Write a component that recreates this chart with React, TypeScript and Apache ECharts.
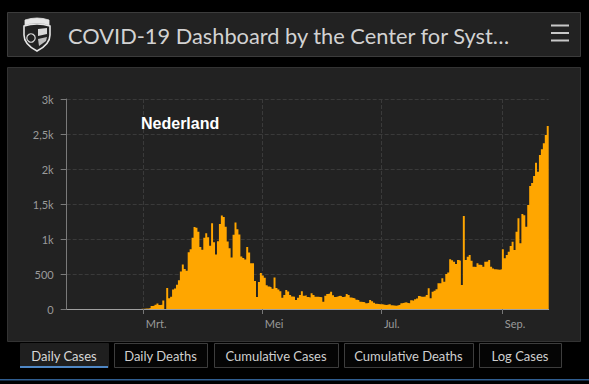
import React, { useEffect, useRef } from "react";
import * as echarts from "echarts";

// ---------- data ----------
const START_DATE = "2020-01-22";
const TITLE = "COVID-19 Dashboard by the Center for Syst…";
const COUNTRY = "Nederland";

// daily new cases per month (Jan 22 .. Sep 24, 2020)
const janCases = [0, 0, 0, 0, 0, 0, 0, 0, 0, 0];
const febCases = [
  0, 0, 0, 0, 0, 0, 0, 0, 0, 0, 0, 0, 0, 0, 0, 0, 0, 0, 0, 0, 0, 0, 0, 0, 0, 0,
  1, 0, 5,
];
const marCases = [
  4, 8, 6, 14, 44, 46, 60, 77, 56, 61, 121, 0, 301, 155, 176, 278, 292, 346,
  409, 534, 637, 573, 545, 811, 852, 1019, 1172, 1159, 1104, 884, 845,
];
const aprCases = [
  1019, 1083, 1026, 904, 1224, 952, 777, 969, 1213, 1335, 1316, 1174, 964, 868,
  734, 1061, 1235, 1140, 1066, 750, 729, 708, 887, 806, 655, 655, 400, 171, 386,
  514,
];
const mayCases = [
  480, 445, 340, 320, 310, 290, 450, 300, 280, 255, 160, 200, 270, 250, 200,
  180, 175, 130, 160, 200, 255, 190, 195, 170, 165, 224, 200, 176, 176, 170,
  167,
];
const junCases = [
  105, 190, 214, 222, 248, 195, 170, 180, 190, 184, 172, 178, 216, 200, 165,
  158, 150, 132, 126, 105, 100, 95, 81, 88, 129, 112, 90, 76, 71, 67,
];
const julCases = [
  67, 60, 57, 65, 71, 52, 50, 48, 52, 60, 81, 90, 95, 85, 81, 125, 119, 138,
  150, 186, 176, 176, 180, 200, 295, 152, 248, 260, 281, 367, 367,
];
const augCases = [
  438, 390, 500, 520, 710, 695, 676, 643, 700, 690, 343, 1329, 700, 748, 771,
  690, 605, 600, 652, 633, 628, 605, 676, 680, 700, 605, 580, 567, 565, 560,
  567,
];
const sepCases = [
  852, 724, 770, 819, 900, 962, 843, 1105, 1295, 938, 1357, 1340, 1176, 1486,
  1757, 1800, 1900, 2090, 1962, 2200, 2281, 2367, 2486, 2614,
];

const dailyCases = [
  ...janCases,
  ...febCases,
  ...marCases,
  ...aprCases,
  ...mayCases,
  ...junCases,
  ...julCases,
  ...augCases,
  ...sepCases,
];

const TICK_DATES = ["2020-03-01", "2020-05-01", "2020-07-01", "2020-09-01"];
const TICK_LABELS = ["Mrt.", "Mei", "Jul.", "Sep."];
const Y_TICK_VALUES = [0, 500, 1000, 1500, 2000, 2500, 3000];
const Y_TICK_LABELS = ["0", "500", "1k", "1,5k", "2k", "2,5k", "3k"];
const TAB_LABELS = [
  "Daily Cases",
  "Daily Deaths",
  "Cumulative Cases",
  "Cumulative Deaths",
  "Log Cases",
];

function buildDates(start: string, n: number): string[] {
  const t0 = Date.parse(start + "T00:00:00Z");
  const out: string[] = [];
  for (let i = 0; i < n; i++) {
    out.push(new Date(t0 + i * 86400000).toISOString().slice(0, 10));
  }
  return out;
}

// one extra date closes the last day's column (each day spans [day, next day])
const categories = buildDates(START_DATE, dailyCases.length + 1);

// ---------- logo shapes ----------
let shapesRegistered = false;
function registerShapes() {
  if (shapesRegistered) return;
  shapesRegistered = true;
  echarts.graphic.registerShape(
    "jhuShield",
    echarts.graphic.extendPath(
      "M2 9 Q15 5 28 9 L28 18 C28 26 21 31 15 34 C9 31 2 26 2 18 Z",
      {}
    )
  );
  echarts.graphic.registerShape(
    "jhuCap",
    echarts.graphic.extendPath(
      "M3 8 L3 3 Q15 -1 27 3 L27 8 Q15 4 3 8 Z",
      {}
    )
  );
}

export default function App() {
  const ref = useRef<HTMLDivElement>(null);

  useEffect(() => {
    if (!ref.current) return;
    registerShapes();
    const chart = echarts.init(ref.current, undefined, { renderer: "svg" });

    const isTick = (i: number) => TICK_DATES.indexOf(categories[i]) >= 0;
    const labelColor = "#9a9a9a";
    const font = "Lato";
    const barColor = "#ffa600";

    const TAB_X: [number, number][] = [
      [20, 108],
      [114, 207],
      [214, 338],
      [344, 473],
      [479, 561],
    ];

    const tabs: any[] = [];
    TAB_LABELS.forEach((label, i) => {
      const [x0, x1] = TAB_X[i];
      const selected = i === 0;
      tabs.push({
        type: "rect",
        z: 5,
        shape: { x: x0 + 0.5, y: 343.5, width: x1 - x0, height: 24 },
        style: selected
          ? { fill: "#1f1f1f", stroke: "#1f1f1f", lineWidth: 1 }
          : { fill: "#050505", stroke: "#3d3d3d", lineWidth: 1 },
      });
      if (selected) {
        tabs.push({
          type: "rect",
          z: 6,
          shape: { x: x0, y: 366, width: x1 - x0, height: 2 },
          style: { fill: "#4f87c5" },
        });
      }
      tabs.push({
        type: "text",
        z: 7,
        x: (x0 + x1) / 2,
        y: 355.5,
        style: {
          text: label,
          fill: selected ? "#d8d8d8" : "#cfcfcf",
          font: `13px ${font}`,
          align: "center",
          verticalAlign: "middle",
        },
      });
    });

    // daily columns drawn as one stepped area: day i spans [point i, point i+1]
    const stepData = [...dailyCases, dailyCases[dailyCases.length - 1]];

    const option: any = {
      animation: false,
      backgroundColor: "#000000",
      grid: { left: 66.7, right: 40.3, top: 99, bottom: 75 },
      xAxis: {
        type: "category",
        data: categories,
        boundaryGap: false,
        axisLine: { show: true, lineStyle: { color: "#a0a0a0", width: 1 } },
        axisTick: {
          show: true,
          interval: (i: number) => isTick(i),
          length: 5,
          lineStyle: { color: "#777777" },
        },
        axisLabel: {
          interval: (i: number) => isTick(i),
          formatter: (v: string) => {
            const k = TICK_DATES.indexOf(v);
            return k >= 0 ? TICK_LABELS[k] : "";
          },
          color: labelColor,
          fontFamily: font,
          fontSize: 11,
          align: "left",
          padding: [0, 0, 0, 3],
          margin: 9,
        },
        splitLine: {
          show: true,
          interval: (i: number) => isTick(i),
          lineStyle: { color: "#3a3a3a", type: "dashed", width: 1 },
        },
      },
      yAxis: {
        type: "value",
        min: 0,
        max: 3000,
        interval: 500,
        axisLine: { show: true, lineStyle: { color: "#7a7a7a", width: 1 } },
        axisTick: { show: true, length: 6, lineStyle: { color: "#7a7a7a" } },
        axisLabel: {
          color: labelColor,
          fontFamily: font,
          fontSize: 11,
          margin: 13,
          formatter: (v: number) => {
            const k = Y_TICK_VALUES.indexOf(v);
            return k >= 0 ? Y_TICK_LABELS[k] : String(v);
          },
        },
        splitLine: {
          show: true,
          lineStyle: { color: "#3a3a3a", type: "dashed", width: 1 },
        },
      },
      series: [
        {
          type: "line",
          data: stepData,
          step: "end",
          showSymbol: false,
          symbol: "none",
          sampling: undefined,
          lineStyle: { width: 0, color: barColor, opacity: 0 },
          areaStyle: { color: barColor, opacity: 1 },
          z: 3,
        },
      ],
      graphic: [
        // header panel
        {
          type: "rect",
          z: -10,
          shape: { x: 7.5, y: 12.5, width: 573, height: 44 },
          style: { fill: "#222222", stroke: "#3c3c3c", lineWidth: 1 },
        },
        // chart panel
        {
          type: "rect",
          z: -10,
          shape: { x: 7.5, y: 67.5, width: 573, height: 274 },
          style: { fill: "#222222", stroke: "#333333", lineWidth: 1 },
        },
        // logo
        {
          type: "jhuShield",
          z: 5,
          x: 22,
          y: 17,
          scaleX: 1,
          scaleY: 1,
          style: { fill: "#222222", stroke: "#e6e6e6", lineWidth: 1.6 },
        },
        {
          type: "jhuCap",
          z: 6,
          x: 22,
          y: 17,
          style: { fill: "#e6e6e6", stroke: "#e6e6e6", lineWidth: 0.8 },
        },
        {
          type: "circle",
          z: 6,
          shape: { cx: 31, cy: 38, r: 4.2 },
          style: { fill: "#222222", stroke: "#d8d8d8", lineWidth: 1.2 },
        },
        {
          type: "polygon",
          z: 6,
          shape: { points: [[38, 29], [47, 28], [47, 34], [38, 36]] },
          style: { fill: "#d8d8d8" },
        },
        {
          type: "polygon",
          z: 6,
          shape: { points: [[38, 39], [47, 37], [46, 41], [39, 46]] },
          style: { fill: "#bdbdbd" },
        },
        // title
        {
          type: "text",
          z: 5,
          x: 68,
          y: 35,
          style: {
            text: TITLE,
            fill: "#d2d2d2",
            font: `21.8px ${font}`,
            verticalAlign: "middle",
          },
        },
        // hamburger
        { type: "rect", z: 5, shape: { x: 551, y: 24.5, width: 18, height: 2 }, style: { fill: "#c8c8c8" } },
        { type: "rect", z: 5, shape: { x: 551, y: 32, width: 18, height: 2 }, style: { fill: "#c8c8c8" } },
        { type: "rect", z: 5, shape: { x: 551, y: 39.5, width: 18, height: 2 }, style: { fill: "#c8c8c8" } },
        // country label
        {
          type: "text",
          z: 10,
          x: 141,
          y: 123,
          style: {
            text: COUNTRY,
            fill: "#ffffff",
            font: "bold 16px 'Liberation Sans', Arial, sans-serif",
            verticalAlign: "middle",
          },
        },
        // bottom blue line
        {
          type: "rect",
          z: 5,
          shape: { x: 0, y: 379, width: 589, height: 1.5 },
          style: { fill: "#2f5d8f" },
        },
        ...tabs,
      ],
    };

    chart.setOption(option);
    return () => chart.dispose();
  }, []);

  return (
    <div
      ref={ref}
      style={{ position: "fixed", left: 0, top: 0, width: 589, height: 384 }}
    />
  );
}
